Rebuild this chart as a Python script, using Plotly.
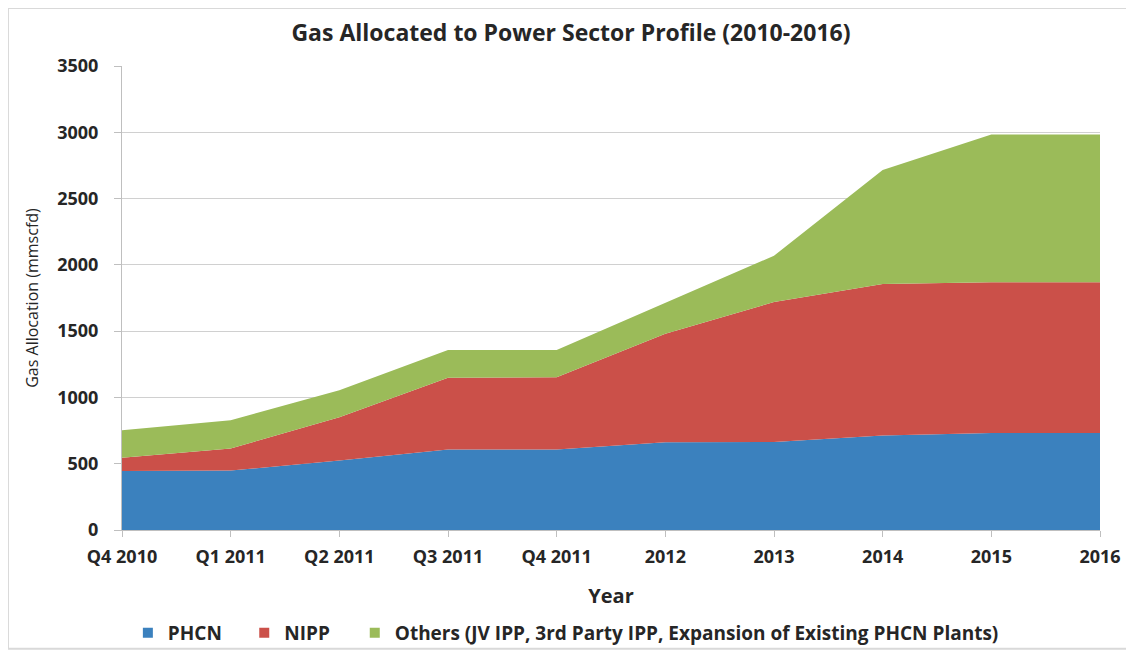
import plotly.graph_objects as go

PERIODOS = ["Q4 2010", "Q1 2011", "Q2 2011", "Q3 2011", "Q4 2011",
            "2012", "2013", "2014", "2015", "2016"]

PHCN = [445, 448, 525, 607, 608, 662, 663, 712, 732, 732]
NIPP = [100, 167, 325, 542, 545, 818, 1056, 1143, 1137, 1137]
OUTROS = [207, 212, 205, 208, 205, 235, 350, 860, 1115, 1115]

SERIES = [
    ("PHCN", PHCN, "#3B81BE"),
    ("NIPP", NIPP, "#CB5049"),
    ("Others (JV IPP, 3rd Party IPP, Expansion of Existing PHCN Plants)", OUTROS, "#9BBB59"),
]

FONTE = "'Open Sans', Lato, Arial, sans-serif"
PRETO = "#262626"

fig = go.Figure()
for nome, valores, cor in SERIES:
    fig.add_trace(go.Scatter(
        x=PERIODOS,
        y=valores,
        name=nome,
        mode="lines",
        stackgroup="gas",
        line=dict(width=0, color=cor),
        fillcolor=cor,
        showlegend=False,
        hovertemplate="%{x}<br>%{y} mmscfd<extra>" + nome + "</extra>",
    ))

# uma legenda por série, para afastar as entradas como no Excel
LEGENDAS = ["legend", "legend2", "legend3"]
POS_LEGENDA = [0.006, 0.125, 0.238]
for (nome, valores, cor), leg in zip(SERIES, LEGENDAS):
    fig.add_trace(go.Scatter(
        x=[None], y=[None],
        name=nome,
        mode="markers",
        marker=dict(symbol="square", size=10, color=cor),
        showlegend=True,
        legend=leg,
    ))

estilo_legenda = dict(
    orientation="h", xanchor="left", y=-0.222, yanchor="middle",
    font=dict(size=19, color=PRETO, weight="bold"),
    itemwidth=30, bgcolor="rgba(0,0,0,0)",
)

fig.update_layout(
    width=1126,
    height=647,
    margin=dict(l=114, r=34, t=58, b=125, autoexpand=False),
    paper_bgcolor="white",
    plot_bgcolor="white",
    font=dict(family=FONTE, color=PRETO),
    title=dict(
        text="Gas Allocated to Power Sector Profile (2010-2016)",
        x=0.5, xanchor="center", y=0.961, yanchor="middle",
        font=dict(size=23, color=PRETO, weight="bold"),
    ),
    showlegend=True,
    legend=dict(x=POS_LEGENDA[0], **estilo_legenda),
    legend2=dict(x=POS_LEGENDA[1], **estilo_legenda),
    legend3=dict(x=POS_LEGENDA[2], **estilo_legenda),
    xaxis=dict(
        type="category",
        range=[0, 9],
        showgrid=False,
        showline=True, linecolor="#BFBFBF", linewidth=1,
        ticks="outside", ticklen=6, tickcolor="#BFBFBF",
        ticklabelstandoff=4,
        tickfont=dict(size=18, color=PRETO, weight="bold"),
        title=dict(text="Year", font=dict(size=20, color=PRETO, weight="bold"), standoff=22),
        automargin=False,
    ),
    yaxis=dict(
        range=[0, 3500],
        dtick=500,
        showgrid=True, gridcolor="#D0D0D0", gridwidth=1,
        showline=True, linecolor="#BFBFBF", linewidth=1,
        ticks="outside", ticklen=7, tickcolor="#BFBFBF",
        ticklabelstandoff=12,
        tickfont=dict(size=18, color=PRETO, weight="bold"),
        title=dict(text="Gas Allocation (mmscfd)", font=dict(size=16, color=PRETO), standoff=14),
        zeroline=False,
        automargin=False,
    ),
)

fig.add_shape(
    type="rect", xref="paper", yref="paper",
    x0=-0.1166, x1=1.0286, y0=-0.256, y1=1.125,
    line=dict(color="#D9D9D9", width=2), fillcolor="rgba(0,0,0,0)",
    layer="below",
)

fig.write_html("out.html")
